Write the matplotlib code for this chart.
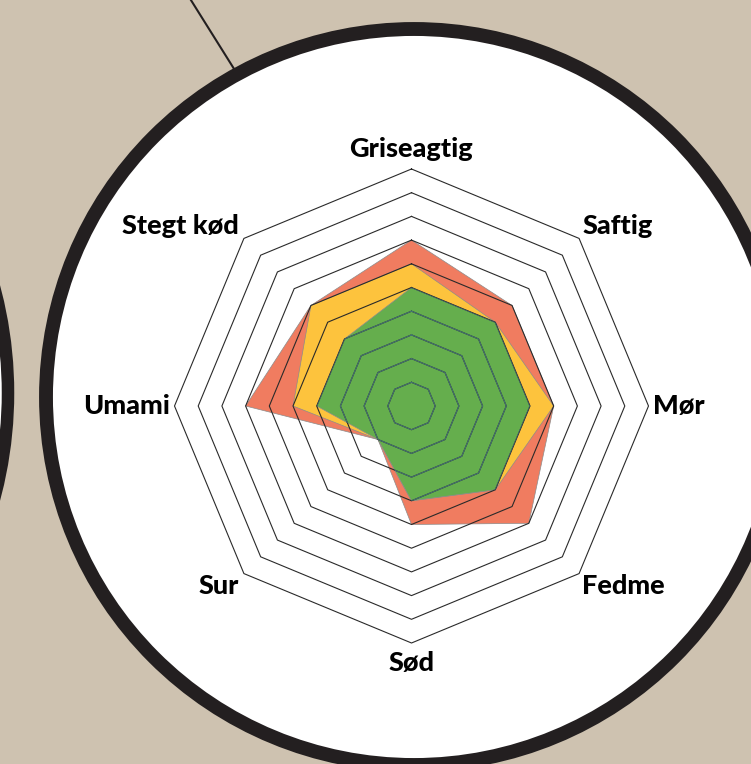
import numpy as np
import matplotlib.pyplot as plt
from matplotlib.patches import Circle, Polygon

# axes of the radar, clockwise from the top
labels = ["Griseagtig", "Saftig", "Mør", "Fedme", "Sød", "Sur", "Umami", "Stegt kød"]
red_vals = [7, 6, 6, 7, 5, 2, 7, 6]
yellow_vals = [6, 5, 6, 5, 4, 2, 5, 6]
green_vals = [5, 5, 5, 5, 4, 2, 4, 4]
levels = list(range(1, 11))

W, H = 751, 764
BG = '#cec2b0'
DARK = '#231f20'

fig = plt.figure(figsize=(W / 100, H / 100), dpi=100)
fig.patch.set_facecolor(BG)

# decor: the plates and the pointer line
bg = fig.add_axes([0, 0, 1, 1])
bg.set_xlim(0, W)
bg.set_ylim(H, 0)
bg.axis('off')
bg.add_patch(Circle((-402, 393), 410, facecolor='white', edgecolor=DARK, lw=9))
bg.add_patch(Circle((414, 397), 368, facecolor='white', edgecolor=DARK, lw=10))
bg.plot([189, 236], [-3, 72], color=DARK, lw=1.5, solid_capstyle='butt')

# radar axes, one data unit = one ring
cx, cy, u = 411.5, 406, 23.7
span = 12
ax = fig.add_axes([(cx - span * u) / W, (H - cy - span * u) / H,
                   2 * span * u / W, 2 * span * u / H])
ax.set_xlim(-span, span)
ax.set_ylim(-span, span)
ax.axis('off')
ax.patch.set_alpha(0)

angles = np.deg2rad(90 - 45 * np.arange(len(labels)))


def verts(vals):
    v = np.asarray(vals, dtype=float)
    return np.column_stack([v * np.cos(angles), v * np.sin(angles)])


edge = '#8c8c8c'
ax.add_patch(Polygon(verts(red_vals), closed=True, facecolor='#f07c60',
                     edgecolor=edge, lw=0.5, zorder=1))
ax.add_patch(Polygon(verts(yellow_vals), closed=True, facecolor='#fdc33d',
                     edgecolor=edge, lw=0.5, zorder=2))
green = Polygon(verts(green_vals), closed=True, facecolor='#65ae4d',
                edgecolor=edge, lw=0.5, zorder=3)
ax.add_patch(green)

# octagon rings: black on top, teal where they cross the green area
for lv in levels:
    ring = verts([lv] * len(labels))
    ring = np.vstack([ring, ring[:1]])
    ax.plot(ring[:, 0], ring[:, 1], color='#2a2a2a', lw=0.8, zorder=4)
    inner, = ax.plot(ring[:, 0], ring[:, 1], color='#44736f', lw=0.8, zorder=5)
    inner.set_clip_path(green)

# category labels
plt.rcParams['font.family'] = ['Lato', 'DejaVu Sans']
for i, name in enumerate(labels):
    ca, sa = np.cos(angles[i]), np.sin(angles[i])
    if abs(ca) < 1e-6:
        x, y, ha = 0, 10.85 * np.sign(sa), 'center'
    elif abs(sa) < 1e-6:
        x, y, ha = 10.2 * np.sign(ca), 0, 'left' if ca > 0 else 'right'
    else:
        x = 7.2 * np.sign(ca) - (0.1 if ca < 0 else -0.0)
        y = 7.6 * np.sign(sa)
        ha = 'left' if ca > 0 else 'right'
    ax.text(x, y, name, ha=ha, va='center', fontsize=19.5, fontweight='black',
            color='black', zorder=6)

fig.savefig('out.png', dpi=100, facecolor=BG)
